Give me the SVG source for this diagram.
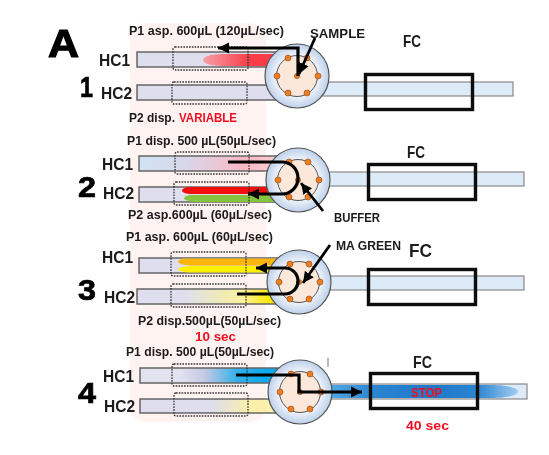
<svg xmlns="http://www.w3.org/2000/svg" xmlns:xlink="http://www.w3.org/1999/xlink" width="549" height="455" viewBox="0 0 549 455">
<style>
text{font-family:"Liberation Sans",Arial,sans-serif;font-weight:700;fill:#1a1a1a}
.cap{font-size:12px}
.hc{font-size:16px}
.num{font-size:30px;fill:#000;stroke:#000;stroke-width:0.7}
.fc{font-size:17px}
.red{fill:#f01020}
.tube{fill:#dedeee;stroke:#666;stroke-width:1.5}
.fct{fill:#dcebf7;stroke:#888;stroke-width:1.2}
.dot{fill:none;stroke:#333;stroke-width:1.3;stroke-dasharray:1.6 1.2}
.fcb{fill:none;stroke:#111;stroke-width:3.4}
.flow{fill:none;stroke:#000;stroke-width:3.2}
.arr{fill:none;stroke:#000;stroke-width:2.8}
</style>
<defs>
<filter id="soft" x="0" y="0" width="100%" height="100%" filterUnits="userSpaceOnUse" primitiveUnits="userSpaceOnUse"><feGaussianBlur stdDeviation="0.35"/></filter>
<radialGradient id="vo"><stop offset="0.6" stop-color="#f6f8fc"/><stop offset="1" stop-color="#bcd0ea"/></radialGradient>
<linearGradient id="r1" gradientUnits="userSpaceOnUse" x1="203" x2="250" y1="0" y2="0"><stop offset="0" stop-color="#f7a0a8"/><stop offset="1" stop-color="#f83c48"/></linearGradient>
<linearGradient id="t2" gradientUnits="userSpaceOnUse" x1="139" x2="270" y1="0" y2="0"><stop offset="0" stop-color="#cfe2f0"/><stop offset="0.35" stop-color="#d8d8ea"/><stop offset="0.8" stop-color="#f8b8c4"/><stop offset="1" stop-color="#fbc8d0"/></linearGradient>
<linearGradient id="t3" gradientUnits="userSpaceOnUse" x1="137" x2="270" y1="0" y2="0"><stop offset="0.35" stop-color="#dedeee"/><stop offset="0.8" stop-color="#fbf29a"/><stop offset="1" stop-color="#ffe800"/></linearGradient>
<linearGradient id="t4a" gradientUnits="userSpaceOnUse" x1="140" x2="270" y1="0" y2="0"><stop offset="0.3" stop-color="#e2e2f0"/><stop offset="0.5" stop-color="#c4c8e4"/><stop offset="0.75" stop-color="#30b0ea"/><stop offset="1" stop-color="#08a8f0"/></linearGradient>
<linearGradient id="t4b" gradientUnits="userSpaceOnUse" x1="140" x2="270" y1="0" y2="0"><stop offset="0.55" stop-color="#dedeee"/><stop offset="0.85" stop-color="#fbeea8"/><stop offset="1" stop-color="#fdf0b0"/></linearGradient>
<linearGradient id="b4" gradientUnits="userSpaceOnUse" x1="330" x2="518" y1="0" y2="0"><stop offset="0" stop-color="#4ea8e4"/><stop offset="0.25" stop-color="#2a84d0"/><stop offset="0.55" stop-color="#2078c8"/><stop offset="0.78" stop-color="#2a84d0"/><stop offset="1" stop-color="#a0cCf0"/></linearGradient>
<marker id="ah" markerUnits="userSpaceOnUse" markerWidth="12" markerHeight="12" refX="11" refY="6" orient="auto"><path d="M0,0.500L11,6L0,11.500z" fill="#000"/></marker>
<g id="valve">
<circle r="32" fill="url(#vo)" stroke="#555" stroke-width="1.2"/>
<circle r="20.5" fill="#fbe8da" stroke="#555" stroke-width="1"/>
<g fill="#ee7b22" stroke="#8a4a14" stroke-width="0.6">
<circle cx="-9" cy="-18" r="3"/><circle cx="10" cy="-18" r="3"/><circle cx="-20" cy="0" r="3"/><circle cx="21" cy="0" r="3"/><circle cx="-9" cy="17" r="3"/><circle cx="10" cy="17" r="3"/><circle cx="0" cy="0" r="2.6"/>
</g>
</g>
</defs>
<rect width="549" height="455" fill="#fff"/>
<g filter="url(#soft)">
<rect id="backdrop" x="130" y="23" width="136" height="399" rx="16" fill="#fff3f2"/>

<g id="panel-1">
<rect class="fct" x="320" y="82" width="193" height="14"/>
<rect class="tube" x="137" y="52" width="140" height="15"/>
<rect class="tube" x="137" y="85" width="140" height="15"/>
<path d="M280,54H222C210,54 203,57 203,60C203,63 210,66 222,66H280z" fill="url(#r1)"/>
<rect class="dot" x="173" y="47" width="75" height="23" rx="2"/>
<rect class="dot" x="172" y="82" width="75" height="22" rx="2"/>
<use xlink:href="#valve" href="#valve" x="297" y="76"/>
<rect class="fcb" x="365.500" y="74.500" width="107" height="35"/>
<text x="48" y="57" class="num" style="font-size:39px;stroke-width:1.2" textLength="31" lengthAdjust="spacingAndGlyphs">A</text>
<text x="80" y="97" class="num" textLength="13" lengthAdjust="spacingAndGlyphs">1</text>
<text x="99" y="66" class="hc" textLength="31" lengthAdjust="spacingAndGlyphs">HC1</text>
<text x="101" y="99" class="hc" textLength="31" lengthAdjust="spacingAndGlyphs">HC2</text>
<text x="129" y="35" class="cap" textLength="155" lengthAdjust="spacingAndGlyphs">P1 asp. 600µL (120µL/sec)</text>
<text x="310" y="38" class="cap" textLength="55" lengthAdjust="spacingAndGlyphs">SAMPLE</text>
<text x="403" y="47" class="fc" textLength="18" lengthAdjust="spacingAndGlyphs">FC</text>
<text x="129" y="122" class="cap" textLength="46" lengthAdjust="spacingAndGlyphs">P2 disp.</text>
<text x="179" y="122" class="cap red" textLength="58" lengthAdjust="spacingAndGlyphs">VARIABLE</text>
</g>

<g id="panel-2">
<rect class="fct" x="325" y="172" width="199" height="14"/>
<rect class="tube" x="139" y="156" width="140" height="15" style="fill:url(#t2)"/>
<rect class="tube" x="139" y="187" width="140" height="15"/>
<path d="M285,187H190C185,187 182,189 182,190.500C182,192.500 186,194 192,194H285z" fill="#f40a0a"/>
<path d="M285,195H192C187,195 184,197 184,198.500C184,200 190,202 198,202H285z" fill="#86c440"/>
<rect class="dot" x="175" y="152" width="74" height="22" rx="2"/>
<rect class="dot" x="174" y="182" width="75" height="23" rx="2"/>
<use xlink:href="#valve" href="#valve" x="298" y="180"/>
<rect class="fcb" x="368.500" y="164.500" width="107" height="35"/>
<text x="78" y="197" class="num" textLength="18" lengthAdjust="spacingAndGlyphs">2</text>
<text x="102" y="170" class="hc" textLength="31" lengthAdjust="spacingAndGlyphs">HC1</text>
<text x="103" y="199" class="hc" textLength="31" lengthAdjust="spacingAndGlyphs">HC2</text>
<text x="127" y="145" class="cap" textLength="149" lengthAdjust="spacingAndGlyphs">P1 disp. 500 µL(50µL/sec)</text>
<text x="128" y="219" class="cap" textLength="144" lengthAdjust="spacingAndGlyphs">P2 asp.600µL (60µL/sec)</text>
<text x="334" y="222" class="cap" textLength="46" lengthAdjust="spacingAndGlyphs">BUFFER</text>
<text x="407" y="158" class="fc" textLength="18" lengthAdjust="spacingAndGlyphs">FC</text>
</g>

<g id="panel-3">
<rect class="fct" x="325" y="276" width="199" height="14"/>
<rect class="tube" x="139" y="258" width="140" height="15"/>
<rect class="tube" x="137" y="289" width="142" height="15" style="fill:url(#t3)"/>
<path d="M285,258.500H186C181,258.500 178,260 178,261.500C178,263 182,265 190,265.500H285z" fill="#fdb40c"/>
<path d="M285,266H190C182,266.500 178,268 178,269C178,271 184,272.500 192,272.500H285z" fill="#fff000"/>
<rect class="dot" x="171" y="252" width="75" height="24" rx="2"/>
<rect class="dot" x="171" y="284" width="75" height="23" rx="2"/>
<use xlink:href="#valve" href="#valve" x="299" y="282"/>
<rect class="fcb" x="368.500" y="269.500" width="107" height="35"/>
<text x="78" y="300" class="num" textLength="18" lengthAdjust="spacingAndGlyphs">3</text>
<text x="102" y="263" class="hc" textLength="31" lengthAdjust="spacingAndGlyphs">HC1</text>
<text x="104" y="303" class="hc" textLength="31" lengthAdjust="spacingAndGlyphs">HC2</text>
<text x="126" y="241" class="cap" textLength="147" lengthAdjust="spacingAndGlyphs">P1 asp. 600µL (60µL/sec)</text>
<text x="138" y="325" class="cap" textLength="143" lengthAdjust="spacingAndGlyphs">P2 disp.500µL(50µL/sec)</text>
<text x="195" y="341" class="cap red" style="font-size:13px" textLength="41" lengthAdjust="spacingAndGlyphs">10 sec</text>
<text x="336" y="250" class="cap" textLength="65" lengthAdjust="spacingAndGlyphs">MA GREEN</text>
<text x="409" y="257" class="fc" style="font-size:19px" textLength="23" lengthAdjust="spacingAndGlyphs">FC</text>
</g>

<g id="panel-4">
<rect class="fct" x="325" y="384" width="202" height="15"/>
<path d="M325,385H490C508,385 518,388 518,391.500C518,395 508,398 490,398H325z" fill="url(#b4)"/>
<rect class="tube" x="140" y="368" width="140" height="15" style="fill:url(#t4a)"/>
<rect class="tube" x="140" y="399" width="140" height="14" style="fill:url(#t4b)"/>
<rect class="dot" x="172" y="364" width="75" height="22" rx="2"/>
<rect class="dot" x="174" y="393" width="74" height="23" rx="2"/>
<use xlink:href="#valve" href="#valve" x="300" y="392"/>
<rect class="fcb" x="370.500" y="373.500" width="107" height="35"/>
<path d="M328,358V367" stroke="#777" stroke-width="1" fill="none"/>
<text x="78" y="403" class="num" textLength="18" lengthAdjust="spacingAndGlyphs">4</text>
<text x="103" y="382" class="hc" textLength="31" lengthAdjust="spacingAndGlyphs">HC1</text>
<text x="104" y="412" class="hc" textLength="31" lengthAdjust="spacingAndGlyphs">HC2</text>
<text x="126" y="356" class="cap" textLength="148" lengthAdjust="spacingAndGlyphs">P1 disp. 500 µL(50µL/sec)</text>
<text x="413" y="368" class="fc" textLength="19" lengthAdjust="spacingAndGlyphs">FC</text>
<text x="411" y="397" class="cap red" textLength="31" lengthAdjust="spacingAndGlyphs">STOP</text>
<text x="406" y="430" class="cap red" style="font-size:13px" textLength="43" lengthAdjust="spacingAndGlyphs">40 sec</text>
</g>

<g id="connectors">
<path class="flow" d="M298,76V48H218" marker-end="url(#ah)"/>
<path class="arr" d="M315,38L299,74" marker-end="url(#ah)"/>
<path class="flow" d="M228,162H282A16,16 0 0 1 282,194H248" marker-end="url(#ah)"/>
<path class="arr" d="M323,211L301,183" marker-end="url(#ah)"/>
<path class="flow" d="M237,294H285A13,13 0 0 0 285,268H256" marker-end="url(#ah)"/>
<path class="arr" d="M330,245L303,283" marker-end="url(#ah)"/>
<path class="flow" d="M236,375H299V392H362" marker-end="url(#ah)"/>
</g>
</g>
</svg>
